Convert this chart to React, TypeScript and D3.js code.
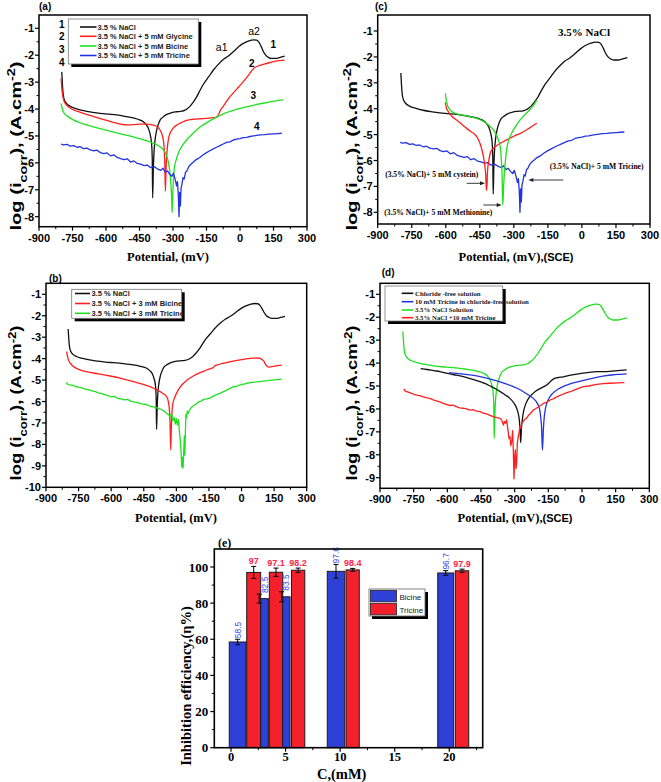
import React from "react";
import * as d3 from "d3";

type Pt = [number, number];

// ---------------- data ----------------
const potentialTicks = [-900, -750, -600, -450, -300, -150, 0, 150, 300];
const logTicks8 = [-8, -7, -6, -5, -4, -3, -2, -1];
const logTicks10 = [-10, -9, -8, -7, -6, -5, -4, -3, -2, -1];
const logTicks9 = [-9, -8, -7, -6, -5, -4, -3, -2, -1];

// 3.5 % NaCl (blank)
const nacl: Pt[] = [
  [-798, -2.62], [-795, -3.1], [-791, -3.5], [-785, -3.68], [-776, -3.8], [-760, -3.9], [-731, -3.99],
  [-700, -4.06], [-660, -4.12], [-627, -4.16], [-590, -4.19], [-552, -4.22], [-515, -4.27], [-478, -4.33],
  [-450, -4.4], [-433, -4.47], [-420, -4.58], [-410, -4.72], [-402, -4.95], [-396, -5.27], [-393, -5.8],
  [-391, -7.3], [-388, -6.2], [-385, -5.6], [-381, -5.2], [-373, -4.78], [-365, -4.55], [-358, -4.41],
  [-345, -4.3], [-328, -4.2], [-305, -4.13], [-284, -4.1], [-260, -4.08], [-246, -4.04], [-235, -3.98],
  [-224, -3.9], [-210, -3.75], [-194, -3.55], [-180, -3.32], [-164, -3.08], [-140, -2.8], [-119, -2.55],
  [-95, -2.32], [-75, -2.16], [-55, -2.05], [-30, -1.87], [-5, -1.68], [15, -1.56], [40, -1.47],
  [60, -1.43], [75, -1.44], [85, -1.52], [95, -1.68], [104, -1.85], [115, -2.0], [127, -2.08],
  [140, -2.12], [160, -2.12], [179, -2.08], [200, -2.03],
];

const glycine5: Pt[] = [
  [-801, -2.86], [-797, -3.3], [-791, -3.62], [-780, -3.82], [-761, -3.96], [-730, -4.08], [-687, -4.2],
  [-640, -4.32], [-582, -4.46], [-540, -4.55], [-507, -4.59], [-475, -4.58], [-448, -4.56], [-420, -4.56],
  [-388, -4.6], [-370, -4.66], [-358, -4.78], [-348, -4.98], [-341, -5.3], [-337, -5.9], [-334, -7.05],
  [-331, -6.2], [-327, -5.6], [-320, -5.1], [-313, -4.9], [-300, -4.72], [-284, -4.6], [-260, -4.49],
  [-239, -4.42], [-210, -4.38], [-179, -4.36], [-140, -4.34], [-119, -4.32], [-105, -4.3], [-97, -4.22],
  [-88, -4.05], [-75, -3.9], [-55, -3.65], [-30, -3.4], [-5, -3.17], [15, -2.98], [40, -2.72],
  [60, -2.5], [80, -2.4], [104, -2.34], [130, -2.28], [160, -2.22], [200, -2.18],
];

const bicine5: Pt[] = [
  [-801, -3.79], [-796, -3.98], [-791, -4.1], [-775, -4.25], [-746, -4.4], [-720, -4.5], [-687, -4.59],
  [-640, -4.7], [-582, -4.82], [-530, -4.93], [-478, -5.03], [-440, -5.12], [-403, -5.22], [-380, -5.3],
  [-358, -5.4], [-340, -5.55], [-328, -5.75], [-318, -6.1], [-311, -6.6], [-306, -7.3], [-304, -7.85],
  [-301, -7.2], [-298, -6.6], [-294, -6.2], [-286, -5.9], [-276, -5.63], [-260, -5.38], [-239, -5.15],
  [-210, -4.9], [-179, -4.67], [-140, -4.46], [-104, -4.3], [-70, -4.16], [-30, -4.05], [10, -3.96],
  [45, -3.89], [80, -3.82], [119, -3.76], [160, -3.7], [194, -3.66],
];

const tricine5: Pt[] = [
  [-801, -5.3], [-790, -5.33], [-775, -5.31], [-760, -5.38], [-745, -5.36], [-730, -5.42], [-715, -5.4],
  [-700, -5.47], [-685, -5.45], [-670, -5.52], [-655, -5.55], [-640, -5.53], [-625, -5.62], [-610, -5.66],
  [-595, -5.63], [-580, -5.74], [-565, -5.7], [-550, -5.8], [-535, -5.84], [-520, -5.88], [-505, -5.85],
  [-490, -5.97], [-475, -5.93], [-460, -6.02], [-445, -6.05], [-430, -6.1], [-415, -6.08], [-400, -6.18],
  [-385, -6.14], [-370, -6.22], [-355, -6.28], [-345, -6.2], [-335, -6.35], [-325, -6.3], [-315, -6.42],
  [-305, -6.5], [-298, -6.38], [-290, -6.62], [-284, -6.85], [-280, -6.7], [-276, -7.2], [-273, -8.0],
  [-270, -7.1], [-267, -7.6], [-264, -6.95], [-260, -6.8], [-255, -6.55], [-250, -6.6], [-244, -6.35],
  [-238, -6.3], [-230, -6.15], [-220, -6.05], [-210, -5.98], [-200, -5.9], [-190, -5.85], [-180, -5.8],
  [-165, -5.7], [-150, -5.62], [-135, -5.55], [-120, -5.48], [-105, -5.42], [-90, -5.36], [-75, -5.3],
  [-60, -5.24], [-45, -5.22], [-30, -5.15], [-15, -5.12], [0, -5.1], [15, -5.06], [30, -5.05],
  [45, -5.02], [60, -5.0], [75, -4.98], [90, -4.96], [110, -4.95], [130, -4.93], [150, -4.92],
  [170, -4.91], [187, -4.9],
];

const bicine3: Pt[] = [
  [-805, -3.67], [-801, -3.9], [-797, -4.06], [-786, -4.24], [-774, -4.37], [-750, -4.5], [-713, -4.61],
  [-660, -4.71], [-605, -4.81], [-550, -4.93], [-498, -5.07], [-460, -5.18], [-421, -5.31], [-395, -5.42],
  [-375, -5.54], [-358, -5.65], [-345, -5.77], [-337, -6.0], [-332, -6.39], [-329, -7.0], [-326, -8.26],
  [-323, -7.2], [-320, -6.5], [-316, -6.1], [-306, -5.77], [-292, -5.48], [-275, -5.23], [-250, -5.0],
  [-222, -4.81], [-190, -4.65], [-160, -4.53], [-140, -4.45], [-130, -4.42], [-125, -4.34], [-114, -4.3],
  [-80, -4.21], [-38, -4.12], [0, -4.05], [30, -4.0], [54, -3.98], [75, -3.97], [85, -3.99], [95, -4.05],
  [103, -4.12], [108, -4.22], [115, -4.33], [124, -4.4], [135, -4.38], [146, -4.36], [165, -4.33], [185, -4.3],
];

const tricine3: Pt[] = [
  [-805, -5.1], [-802, -5.18], [-795, -5.22], [-780, -5.24], [-765, -5.3], [-750, -5.33], [-735, -5.36],
  [-720, -5.42], [-705, -5.45], [-690, -5.5], [-675, -5.53], [-660, -5.6], [-645, -5.62], [-630, -5.68],
  [-615, -5.72], [-600, -5.78], [-585, -5.76], [-570, -5.85], [-555, -5.88], [-540, -5.92], [-525, -5.9],
  [-510, -5.98], [-495, -6.02], [-480, -6.05], [-465, -6.1], [-450, -6.12], [-435, -6.15], [-420, -6.22],
  [-405, -6.25], [-390, -6.3], [-375, -6.35], [-360, -6.42], [-345, -6.55], [-335, -6.62], [-328, -6.72],
  [-322, -6.55], [-316, -6.9], [-310, -6.75], [-305, -7.05], [-300, -6.8], [-295, -7.1], [-290, -6.85],
  [-286, -7.4], [-282, -7.8], [-278, -8.4], [-275, -9.05], [-272, -8.6], [-269, -9.1], [-266, -8.3],
  [-263, -7.6], [-261, -8.5], [-258, -7.3], [-256, -6.6], [-253, -6.75], [-250, -6.45], [-245, -6.55],
  [-240, -6.4], [-232, -6.3], [-225, -6.22], [-215, -6.15], [-205, -6.08], [-195, -6.0], [-185, -5.98],
  [-175, -5.9], [-160, -5.88], [-145, -5.84], [-130, -5.75], [-115, -5.68], [-100, -5.62], [-85, -5.55],
  [-70, -5.48], [-55, -5.4], [-40, -5.32], [-25, -5.3], [-10, -5.24], [5, -5.2], [20, -5.16], [40, -5.12],
  [60, -5.1], [80, -5.07], [100, -5.05], [120, -5.03], [140, -5.0], [160, -4.98], [185, -4.96],
];

const cystein5: Pt[] = [
  [-602, -3.75], [-598, -3.95], [-589, -4.11], [-572, -4.3], [-552, -4.44], [-530, -4.6], [-508, -4.76],
  [-490, -4.88], [-478, -4.95], [-465, -5.06], [-456, -5.2], [-445, -5.45], [-434, -5.85], [-428, -6.2],
  [-424, -6.55], [-421, -7.15], [-418, -6.9], [-416, -6.4], [-412, -6.1], [-405, -5.75], [-398, -5.6],
  [-390, -5.53], [-375, -5.42], [-361, -5.34], [-340, -5.24], [-317, -5.14], [-295, -5.04], [-273, -4.96],
  [-250, -4.85], [-229, -4.73], [-210, -4.62], [-199, -4.56],
];

const methionine5: Pt[] = [
  [-602, -3.41], [-598, -3.65], [-593, -3.86], [-585, -4.0], [-574, -4.11], [-550, -4.2], [-522, -4.25],
  [-490, -4.31], [-464, -4.37], [-440, -4.46], [-420, -4.57], [-400, -4.72], [-390, -4.82], [-378, -5.0],
  [-368, -5.21], [-362, -5.4], [-358, -5.59], [-355, -6.0], [-352, -6.5], [-349, -7.72], [-345, -7.0],
  [-342, -6.5], [-337, -6.0], [-332, -5.59], [-322, -5.2], [-310, -4.95], [-292, -4.68], [-273, -4.44],
  [-250, -4.22], [-229, -4.03], [-210, -3.82], [-199, -3.66],
];

const chlorideFree: Pt[] = [
  [-719, -4.24], [-690, -4.28], [-660, -4.33], [-633, -4.37], [-600, -4.45], [-560, -4.53], [-529, -4.59],
  [-490, -4.7], [-454, -4.81], [-430, -4.9], [-409, -5.0], [-385, -5.12], [-365, -5.24], [-340, -5.4],
  [-321, -5.54], [-305, -5.72], [-291, -5.97], [-284, -6.2], [-279, -6.5], [-276, -6.9], [-273, -7.47],
  [-270, -6.9], [-266, -6.48], [-260, -6.1], [-254, -5.88], [-243, -5.62], [-232, -5.46], [-215, -5.3],
  [-202, -5.2], [-180, -5.08], [-157, -4.96], [-140, -4.8], [-128, -4.7], [-110, -4.64], [-83, -4.6],
  [-50, -4.53], [-9, -4.46], [30, -4.41], [65, -4.37], [100, -4.37], [125, -4.36], [160, -4.33], [199, -4.3],
];

const tricine10ChlorideFree: Pt[] = [
  [-593, -4.42], [-560, -4.45], [-529, -4.48], [-490, -4.53], [-454, -4.59], [-420, -4.67], [-380, -4.78],
  [-345, -4.89], [-306, -5.03], [-280, -5.14], [-261, -5.25], [-240, -5.38], [-217, -5.54], [-205, -5.66],
  [-195, -5.83], [-188, -6.05], [-184, -6.34], [-180, -6.8], [-176, -7.8], [-172, -6.9], [-168, -6.34],
  [-163, -6.0], [-157, -5.76], [-145, -5.5], [-128, -5.3], [-105, -5.13], [-83, -5.02], [-50, -4.9],
  [-9, -4.8], [30, -4.7], [65, -4.62], [100, -4.56], [140, -4.51], [170, -4.49], [199, -4.47],
];

const tricine10Nacl: Pt[] = [
  [-793, -5.12], [-790, -5.2], [-781, -5.25], [-765, -5.3], [-750, -5.36], [-735, -5.4], [-720, -5.43],
  [-707, -5.47], [-690, -5.52], [-675, -5.55], [-660, -5.62], [-645, -5.66], [-630, -5.7], [-618, -5.76],
  [-605, -5.8], [-590, -5.85], [-575, -5.83], [-560, -5.9], [-545, -5.95], [-529, -5.97], [-515, -6.0],
  [-500, -6.05], [-485, -6.03], [-470, -6.1], [-454, -6.12], [-440, -6.18], [-425, -6.22], [-410, -6.28],
  [-395, -6.34], [-380, -6.38], [-365, -6.41], [-357, -6.5], [-350, -6.7], [-345, -6.55], [-340, -6.62],
  [-336, -6.48], [-330, -6.9], [-325, -7.3], [-321, -7.21], [-317, -7.6], [-313, -7.43], [-309, -6.95],
  [-306, -7.8], [-303, -9.05], [-300, -8.1], [-297, -7.79], [-294, -8.6], [-291, -8.37], [-288, -7.5],
  [-284, -7.21], [-280, -7.0], [-276, -6.75], [-272, -6.85], [-269, -6.63], [-262, -6.55], [-255, -6.45],
  [-247, -6.41], [-240, -6.3], [-230, -6.2], [-217, -6.05], [-205, -5.98], [-190, -5.88], [-172, -5.76],
  [-155, -5.7], [-140, -5.6], [-125, -5.55], [-113, -5.47], [-100, -5.42], [-85, -5.36], [-70, -5.3],
  [-53, -5.25], [-35, -5.18], [-15, -5.1], [6, -5.03], [30, -5.0], [65, -4.93], [95, -4.9], [125, -4.88],
  [160, -4.86], [189, -4.85],
];

// inhibition efficiency (panel e)
const barInhibitor = ["Bicine", "Tricine", "Bicine", "Tricine", "Bicine", "Tricine", "Bicine", "Tricine", "Bicine", "Tricine"];
const barEfficiency = [58.5, 97, 82.5, 97.1, 83.5, 98.2, 97.6, 98.4, 96.7, 97.9];
const barError = [1.5, 3.3, 2.5, 2.3, 2.8, 1.2, 3.8, 0.8, 1.3, 0.9];
const barStartMM = [-0.16, 1.44, 2.72, 3.51, 4.74, 5.54, 8.82, 10.54, 18.94, 20.55];
const barEndMM = [1.37, 2.72, 3.42, 4.74, 5.41, 6.76, 10.42, 11.75, 20.4, 21.78];
const errorAtMM = [0.6, 2.08, 2.59, 4.12, 4.64, 6.15, 9.62, 11.15, 19.67, 21.17];
const concTicks = [0, 5, 10, 15, 20];
const effTicks = [0, 20, 40, 60, 80, 100];

// ---------------- styles ----------------
const SANS = "'Liberation Sans', Arial, Helvetica, sans-serif";
const SERIF = "'Liberation Serif', 'Times New Roman', serif";
const BLACK = "#111111";
const RED = "#ff1f1f";
const GREEN = "#1fe01f";
const BLUE = "#2233e0";

type Cfg = {
  xL: number; xR: number; yLoVal: number; yLoPx: number; yHiPx: number;
  top: number; bottom: number;
};

const cfgA: Cfg = { xL: 39, xR: 307, yLoVal: -8, yLoPx: 216.7, yHiPx: 28.3, top: 15, bottom: 226.7 };
const cfgC: Cfg = { xL: 377.7, xR: 650, yLoVal: -8, yLoPx: 212.3, yHiPx: 31, top: 15, bottom: 224 };
const cfgB: Cfg = { xL: 46, xR: 306.7, yLoVal: -10, yLoPx: 487.3, yHiPx: 294.3, top: 283.3, bottom: 487.3 };
const cfgD: Cfg = { xL: 380, xR: 649.3, yLoVal: -9, yLoPx: 477.7, yHiPx: 294.3, top: 283.3, bottom: 488.3 };

type SeriesDef = { data: Pt[]; color: string; noisy?: boolean };

function LogTitle({ cx, cy, len }: { cx: number; cy: number; len: number }) {
  const natural = 117;
  return (
    <text
      transform={`translate(${cx},${cy}) rotate(-90) scale(${len / natural},1)`}
      y={5}
      textAnchor="middle"
      fontFamily={SANS}
      fontWeight="bold"
      fontSize={14}
      fill="#000"
    >
      log (i<tspan fontSize={10} baselineShift="sub">corr</tspan>
      <tspan>), (A.cm</tspan>
      <tspan fontSize={10} baselineShift="super">-2</tspan>
      <tspan>)</tspan>
    </text>
  );
}

function PolPanel({ cfg, yTicks, series, children }: { cfg: Cfg; yTicks: number[]; series: SeriesDef[]; children?: React.ReactNode }) {
  const x = d3.scaleLinear().domain([-900, 300]).range([cfg.xL, cfg.xR]);
  const y = d3.scaleLinear().domain([cfg.yLoVal, -1]).range([cfg.yLoPx, cfg.yHiPx]);
  const smooth = d3.line<Pt>().x((d) => x(d[0])).y((d) => y(d[1])).curve(d3.curveMonotoneX);
  const rough = d3.line<Pt>().x((d) => x(d[0])).y((d) => y(d[1]));
  const xMinor = potentialTicks.slice(0, -1).map((v) => v + 75);
  const yMinor = yTicks.slice(0, -1).map((v) => v + 0.5);
  return (
    <g>
      {series.map((s, i) => (
        <path key={i} d={(s.noisy ? rough : smooth)(s.data) || ""} fill="none" stroke={s.color} strokeWidth={1.3} strokeLinejoin="round" />
      ))}
      <rect x={cfg.xL} y={cfg.top} width={cfg.xR - cfg.xL} height={cfg.bottom - cfg.top} fill="none" stroke="#000" strokeWidth={1.5} />
      {potentialTicks.map((t) => (
        <g key={"xt" + t}>
          <line x1={x(t)} x2={x(t)} y1={cfg.bottom} y2={cfg.bottom + 4} stroke="#000" strokeWidth={1.2} />
          <text x={x(t)} y={cfg.bottom + 15} textAnchor="middle" fontFamily={SANS} fontWeight="bold" fontSize={11}>{t}</text>
        </g>
      ))}
      {xMinor.map((t) => (
        <line key={"xm" + t} x1={x(t)} x2={x(t)} y1={cfg.bottom} y2={cfg.bottom + 2.5} stroke="#000" strokeWidth={1} />
      ))}
      {yTicks.map((t) => (
        <g key={"yt" + t}>
          <line x1={cfg.xL - 4} x2={cfg.xL} y1={y(t)} y2={y(t)} stroke="#000" strokeWidth={1.2} />
          <text x={cfg.xL - 5} y={y(t) + 4} textAnchor="end" fontFamily={SANS} fontWeight="bold" fontSize={11}>{t}</text>
        </g>
      ))}
      {yMinor.map((t) => (
        <line key={"ym" + t} x1={cfg.xL - 2.5} x2={cfg.xL} y1={y(t)} y2={y(t)} stroke="#000" strokeWidth={1} />
      ))}
      {children}
    </g>
  );
}

function BoxLegend({ x, y, w, h, rows, font, size, lineX, textX }: {
  x: number; y: number; w: number; h: number;
  rows: { label: string; color: string; y: number }[];
  font: string; size: number; lineX: [number, number]; textX: number;
}) {
  return (
    <g>
      <rect x={x + 3} y={y + 3} width={w} height={h} fill="#000" />
      <rect x={x} y={y} width={w} height={h} fill="#fff" stroke="#777" strokeWidth={0.8} />
      {rows.map((r, i) => (
        <g key={i}>
          <line x1={lineX[0]} x2={lineX[1]} y1={r.y} y2={r.y} stroke={r.color} strokeWidth={1.6} />
          <text x={textX} y={r.y + size * 0.35} fontFamily={font} fontWeight="bold" fontSize={size} fill="#222">{r.label}</text>
        </g>
      ))}
    </g>
  );
}

function Arrow({ x1, x2, y, color }: { x1: number; x2: number; y: number; color: string }) {
  const dir = x2 > x1 ? 1 : -1;
  return (
    <g>
      <line x1={x1} x2={x2 - dir * 3} y1={y} y2={y} stroke={color} strokeWidth={0.9} />
      <path d={`M${x2},${y} L${x2 - dir * 5},${y - 2} L${x2 - dir * 5},${y + 2} Z`} fill={color} />
    </g>
  );
}

function PotentialTitle({ cx, y, sce }: { cx: number; y: number; sce?: boolean }) {
  return (
    <text x={cx} y={y} textAnchor="middle" fontFamily={SERIF} fontWeight="bold" fontSize={12.5}>
      Potential, (mV){sce ? "," : ""}
      {sce ? <tspan fontFamily={SANS} fontSize={11}>(SCE)</tspan> : null}
    </text>
  );
}

function EfficiencyPanel() {
  const L = 214.3, R = 482.7, T = 549, B = 747.7;
  const x = d3.scaleLinear().domain([0, 20]).range([231, 449.3]);
  const y = d3.scaleLinear().domain([0, 100]).range([747.7, 567]);
  const fillFor = (s: string) => (s === "Bicine" ? "#2f40d6" : "#f4202c");
  const labelFor = (s: string) => (s === "Bicine" ? "#3046f0" : "#ff2448");
  const xMinor = d3.range(2.5, 23, 5);
  const yMinor = d3.range(10, 110, 20);
  return (
    <g>
      {barEfficiency.map((v, i) => (
        <rect key={"b" + i} x={x(barStartMM[i])} y={y(v)} width={x(barEndMM[i]) - x(barStartMM[i])} height={y(0) - y(v)}
          fill={fillFor(barInhibitor[i])} stroke="#1a1a1a" strokeWidth={1} />
      ))}
      {barEfficiency.map((v, i) => {
        const ex = x(errorAtMM[i]);
        const y1 = y(v + barError[i]), y2 = y(v - barError[i]);
        return (
          <g key={"e" + i} stroke="#111" strokeWidth={1.1}>
            <line x1={ex} x2={ex} y1={y1} y2={y2} />
            <line x1={ex - 2.5} x2={ex + 2.5} y1={y1} y2={y1} />
            <line x1={ex - 2.5} x2={ex + 2.5} y1={y2} y2={y2} />
          </g>
        );
      })}
      {barEfficiency.map((v, i) => {
        const cx = x((barStartMM[i] + barEndMM[i]) / 2);
        const top = y(v + barError[i]);
        if (barInhibitor[i] === "Bicine") {
          return (
            <text key={"l" + i} transform={`translate(${cx + 3},${top - 1}) rotate(-90)`} fontFamily={SANS} fontSize={8.5}
              fill={labelFor("Bicine")}>{String(v)}</text>
          );
        }
        return (
          <text key={"l" + i} x={cx} y={top - 2} textAnchor="middle" fontFamily={SANS} fontWeight="bold" fontSize={9}
            fill={labelFor("Tricine")}>{String(v)}</text>
        );
      })}
      <rect x={L} y={T} width={R - L} height={B - T} fill="none" stroke="#000" strokeWidth={1.6} />
      {concTicks.map((t) => (
        <g key={"cx" + t}>
          <line x1={x(t)} x2={x(t)} y1={B} y2={B + 4} stroke="#000" strokeWidth={1.2} />
          <text x={x(t)} y={B + 13.5} textAnchor="middle" fontFamily={SERIF} fontWeight="bold" fontSize={12.5}>{t}</text>
        </g>
      ))}
      {xMinor.map((t) => (
        <line key={"cm" + t} x1={x(t)} x2={x(t)} y1={B} y2={B + 2.5} stroke="#000" strokeWidth={1} />
      ))}
      {effTicks.map((t) => (
        <g key={"ey" + t}>
          <line x1={L - 4} x2={L} y1={y(t)} y2={y(t)} stroke="#000" strokeWidth={1.2} />
          <text x={L - 6} y={y(t) + 4.5} textAnchor="end" fontFamily={SERIF} fontWeight="bold" fontSize={13}>{t}</text>
        </g>
      ))}
      {yMinor.map((t) => (
        <line key={"em" + t} x1={L - 2.5} x2={L} y1={y(t)} y2={y(t)} stroke="#000" strokeWidth={1} />
      ))}
      <text x={218} y={547} fontFamily={SERIF} fontWeight="bold" fontSize={12}>(e)</text>
      <text transform="translate(186,686) rotate(-90)" y={5} textAnchor="middle" fontFamily={SERIF} fontWeight="bold" fontSize={14.5}>
        Inhibition efficiency,(η%)
      </text>
      <text x={341.7} y={779} textAnchor="middle" fontFamily={SERIF} fontWeight="bold" fontSize={14.5}>C,(mM)</text>
      {/* legend */}
      <rect x={372} y={592} width={56} height={27} fill="#000" />
      <rect x={369} y={589} width={56} height={27} fill="#fff" stroke="#666" strokeWidth={0.8} />
      <rect x={370.5} y={590.3} width={26} height={11.5} fill={fillFor("Bicine")} stroke="#222" strokeWidth={0.8} />
      <rect x={370.5} y={603.3} width={26} height={11.5} fill={fillFor("Tricine")} stroke="#222" strokeWidth={0.8} />
      <text x={399.5} y={599.5} fontFamily={SANS} fontSize={8} fill="#222">Bicine</text>
      <text x={399.5} y={612.5} fontFamily={SANS} fontSize={8} fill="#222">Tricine</text>
    </g>
  );
}

export default function App() {
  return (
    <svg width={661} height={782} viewBox="0 0 661 782" style={{ position: "absolute", left: 0, top: 0, background: "#fff" }}>
      <rect x={0} y={0} width={661} height={782} fill="#fff" />

      {/* (a) */}
      <PolPanel cfg={cfgA} yTicks={logTicks8} series={[
        { data: nacl, color: BLACK },
        { data: glycine5, color: RED },
        { data: bicine5, color: GREEN },
        { data: tricine5, color: BLUE, noisy: true },
      ]}>
        <BoxLegend x={68.3} y={19} w={130} h={45} font={SANS} size={7.5} lineX={[80, 96.5]} textX={97.5}
          rows={[
            { label: "3.5 % NaCl", color: BLACK, y: 27 },
            { label: "3.5 % NaCl + 5 mM Glycine", color: RED, y: 36.3 },
            { label: "3.5 % NaCl + 5 mM Bicine", color: GREEN, y: 46 },
            { label: "3.5 % NaCl + 5 mM Tricine", color: BLUE, y: 55.5 },
          ]} />
        {["1", "2", "3", "4"].map((n, i) => (
          <text key={n} x={61.7} y={[27.5, 40.2, 52.8, 66.2][i]} textAnchor="middle" fontFamily={SANS} fontWeight="bold" fontSize={10}>{n}</text>
        ))}
        <text x={221.7} y={51.3} textAnchor="middle" fontFamily={SANS} fontSize={10.5}>a1</text>
        <text x={254} y={35.3} textAnchor="middle" fontFamily={SANS} fontSize={10.5}>a2</text>
        <text x={273.3} y={47.5} textAnchor="middle" fontFamily={SANS} fontWeight="bold" fontSize={10}>1</text>
        <text x={251.7} y={66.8} textAnchor="middle" fontFamily={SANS} fontWeight="bold" fontSize={10}>2</text>
        <text x={253.3} y={98.5} textAnchor="middle" fontFamily={SANS} fontWeight="bold" fontSize={10}>3</text>
        <text x={256.7} y={130.2} textAnchor="middle" fontFamily={SANS} fontWeight="bold" fontSize={10}>4</text>
      </PolPanel>
      <text x={39} y={10} fontFamily={SANS} fontWeight="bold" fontSize={10}>(a)</text>
      <LogTitle cx={16} cy={146} len={168} />
      <PotentialTitle cx={168} y={261} />

      {/* (c) */}
      <PolPanel cfg={cfgC} yTicks={logTicks8} series={[
        { data: nacl, color: BLACK },
        { data: tricine5, color: BLUE, noisy: true },
        { data: cystein5, color: RED },
        { data: methionine5, color: GREEN },
      ]}>
        <text x={584} y={36} textAnchor="middle" fontFamily={SERIF} fontWeight="bold" fontSize={11}>3.5% NaCl</text>
        <text x={431.7} y={176.5} textAnchor="middle" fontFamily={SERIF} fontWeight="bold" fontSize={7.6}>(3.5% NaCl)+ 5 mM cystein)</text>
        <text x={438.3} y={215} textAnchor="middle" fontFamily={SERIF} fontWeight="bold" fontSize={7.6}>(3.5% NaCl)+ 5 mM Methionine)</text>
        <text x={596.7} y={169} textAnchor="middle" fontFamily={SERIF} fontWeight="bold" fontSize={7.6}>(3.5% NaCl)+ 5 mM Tricine)</text>
        <Arrow x1={466.7} x2={485} y={183.3} color="#222" />
        <Arrow x1={483.3} x2={501.7} y={205} color="#222" />
        <Arrow x1={563.3} x2={528.3} y={180} color="#223" />
      </PolPanel>
      <text x={375} y={10} fontFamily={SANS} fontWeight="bold" fontSize={10}>(c)</text>
      <LogTitle cx={352} cy={146} len={168} />
      <PotentialTitle cx={516} y={261} sce />

      {/* (b) */}
      <PolPanel cfg={cfgB} yTicks={logTicks10} series={[
        { data: nacl, color: BLACK },
        { data: bicine3, color: RED },
        { data: tricine3, color: GREEN, noisy: true },
      ]}>
        <BoxLegend x={71.7} y={289.3} w={110} h={29} font={SANS} size={7.5} lineX={[75, 90]} textX={91.5}
          rows={[
            { label: "3.5 % NaCl", color: BLACK, y: 293.5 },
            { label: "3.5 % NaCl + 3 mM Bicine", color: RED, y: 303.5 },
            { label: "3.5 % NaCl + 3 mM Tricine", color: GREEN, y: 313.3 },
          ]} />
      </PolPanel>
      <text x={49} y={282} fontFamily={SANS} fontWeight="bold" fontSize={10}>(b)</text>
      <LogTitle cx={16} cy={403} len={154} />
      <PotentialTitle cx={176} y={522} />

      {/* (d) */}
      <PolPanel cfg={cfgD} yTicks={logTicks9} series={[
        { data: nacl, color: GREEN },
        { data: chlorideFree, color: BLACK },
        { data: tricine10ChlorideFree, color: BLUE },
        { data: tricine10Nacl, color: RED, noisy: true },
      ]}>
        <BoxLegend x={385} y={286} w={117.7} h={35} font={SERIF} size={6.8} lineX={[401.7, 413.3]} textX={415}
          rows={[
            { label: "Chloride -free solution", color: BLACK, y: 293.3 },
            { label: "10 mM Tricine in chloride-free solution", color: BLUE, y: 301.7 },
            { label: "3.5% NaCl Solution", color: GREEN, y: 310 },
            { label: "3.5% NaCl +10 mM Tricine", color: RED, y: 317.7 },
          ]} />
      </PolPanel>
      <text x={381.7} y={276} fontFamily={SANS} fontWeight="bold" fontSize={10}>(d)</text>
      <LogTitle cx={352} cy={403} len={154} />
      <PotentialTitle cx={515} y={522} sce />

      {/* (e) */}
      <EfficiencyPanel />
    </svg>
  );
}
